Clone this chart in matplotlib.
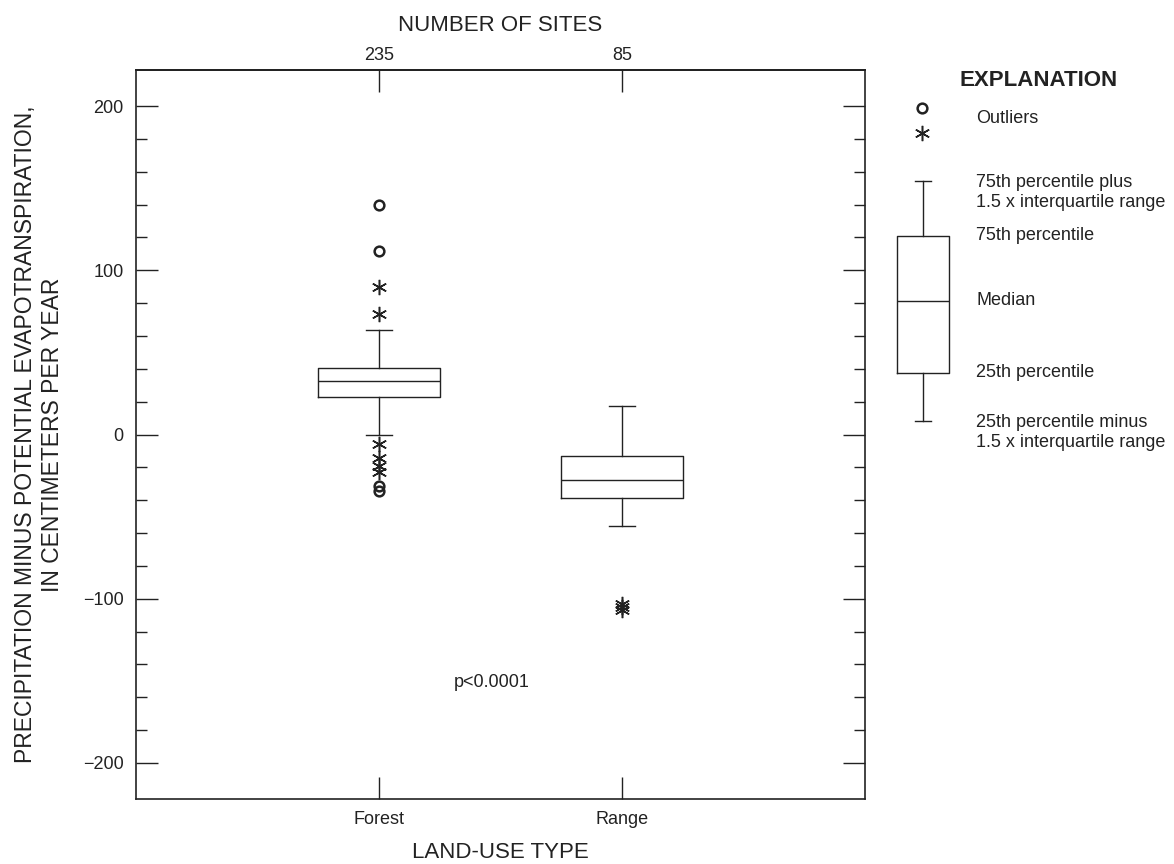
import matplotlib
matplotlib.use("Agg")
import matplotlib.pyplot as plt
from matplotlib.ticker import MultipleLocator, FixedLocator

plt.rcParams['font.family'] = ['Liberation Sans', 'DejaVu Sans']

# Data
land_use = ['Forest', 'Range']
n_sites = ['235', '85']
whis_lo = [0.0, -55.9]
q1 = [22.6, -38.4]
median = [32.5, -28.0]
q3 = [40.2, -13.2]
whis_hi = [63.4, 17.3]
# outliers (stars) and far outliers (circles)
forest_stars = [89.6, 73.2, -6.0, -14.6, -18.9, -23.1]
forest_circles = [139.6, 111.6, -31.4, -34.6]
range_stars = [-103.5, -105.0, -107.0]
range_circles = []

# explanation key box (relative units 0-100)
key_stats = dict(whislo=0, q1=20, med=50, q3=77, whishi=100)

ink = '#222222'

fig = plt.figure(figsize=(11.74, 8.64), dpi=100)
ax = fig.add_axes([136 / 1174, 1 - 799 / 864, 729 / 1174, 729 / 864])

stats = []
for i, name in enumerate(land_use):
    stats.append(dict(label=name, whislo=whis_lo[i], q1=q1[i], med=median[i],
                      q3=q3[i], whishi=whis_hi[i], fliers=[]))

line = dict(color=ink, linewidth=1.0)
ax.bxp(stats, positions=[1, 2], widths=0.5, capwidths=0.105, showfliers=False,
       boxprops=line, whiskerprops=line, capprops=line, medianprops=line)

star = dict(marker=(6, 2, 0), markersize=11, markeredgewidth=1.1, color=ink, linestyle='none')
circ = dict(marker='o', markersize=7, markeredgewidth=1.8, markerfacecolor='none',
            markeredgecolor=ink, linestyle='none')
ax.plot([1] * len(forest_stars), forest_stars, **star)
ax.plot([1] * len(forest_circles), forest_circles, **circ)
ax.plot([2] * len(range_stars), range_stars, **star)
ax.plot([2] * len(range_circles), range_circles, **circ)

ax.set_xlim(0, 3)
ax.set_ylim(-222, 222)
ax.set_xticks([1, 2], labels=land_use)
ax.yaxis.set_major_locator(MultipleLocator(100))
ax.yaxis.set_minor_locator(FixedLocator(range(-200, 201, 20)))
ax.tick_params(axis='both', which='major', direction='in', length=16, width=1.0,
               color=ink, labelsize=13, labelcolor=ink)
ax.tick_params(axis='y', which='major', pad=9, right=True)
ax.tick_params(axis='y', which='minor', direction='in', length=8, width=1.0,
               color=ink, right=True)
ax.tick_params(axis='x', which='major', pad=9)
for sp in ax.spines.values():
    sp.set_linewidth(1.2)
    sp.set_color(ink)

ax.set_xlabel('LAND-USE TYPE', fontsize=16, color=ink, labelpad=10)
ax.set_ylabel('PRECIPITATION MINUS POTENTIAL EVAPOTRANSPIRATION,\nIN CENTIMETERS PER YEAR',
              fontsize=16.5, color=ink, va='center', linespacing=1.2)
ax.yaxis.set_label_coords(-0.133, 0.5)

top = ax.secondary_xaxis('top')
top.set_xticks([1, 2], labels=n_sites)
top.tick_params(direction='in', length=16, width=1.0, color=ink, labelsize=13,
                labelcolor=ink, pad=4)
top.spines['top'].set_linewidth(1.2)
top.set_xlabel('NUMBER OF SITES', fontsize=16, color=ink, labelpad=12)

ax.text(1.463, -151, 'p<0.0001', fontsize=13, color=ink, ha='center', va='center')

# Explanation key
kx = fig.add_axes([880 / 1174, 1 - 460 / 864, 294 / 1174, 380 / 864])
kx.set_xlim(0, 1)
kx.set_ylim(-16.4, 142)
kx.axis('off')
kx.bxp([dict(key_stats, fliers=[])], positions=[0.146], widths=0.177, capwidths=0.054,
       showfliers=False, boxprops=line, whiskerprops=line, capprops=line,
       medianprops=line)
kx.plot([0.142], [130.3], **circ)
kx.plot([0.142], [119.8], **star)

tx = 0.327
fs = 13
kx.text(0.54, 142, 'EXPLANATION', fontsize=16, fontweight='bold', color=ink,
        ha='center', va='center')
kx.text(tx, 126, 'Outliers', fontsize=fs, color=ink, va='center')
kx.text(tx, key_stats['whishi'] - 4.9, '75th percentile plus\n1.5 x interquartile range',
        fontsize=fs, color=ink, va='center', linespacing=1.25)
kx.text(tx, key_stats['q3'], '75th percentile', fontsize=fs, color=ink, va='center')
kx.text(tx, key_stats['med'], 'Median', fontsize=fs, color=ink, va='center')
kx.text(tx, key_stats['q1'], '25th percentile', fontsize=fs, color=ink, va='center')
kx.text(tx, key_stats['whislo'] - 4.9, '25th percentile minus\n1.5 x interquartile range',
        fontsize=fs, color=ink, va='center', linespacing=1.25)

fig.savefig('out.png', dpi=100)
